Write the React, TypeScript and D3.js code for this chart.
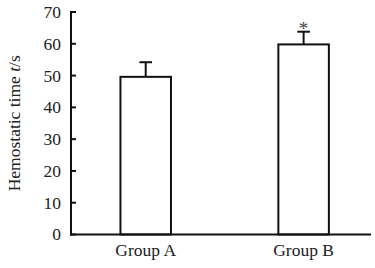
import React from "react";
import * as d3 from "d3";

const categories = ["Group A", "Group B"];
const means = [49.6, 59.8];
const errors = [4.6, 4.0];
const significance = ["", "*"];
const yTicks = [0, 10, 20, 30, 40, 50, 60, 70];

const W = 375;
const H = 268;
const FONT = "'Liberation Serif', 'Times New Roman', serif";

export default function App() {
  const x = d3
    .scaleBand<string>()
    .domain(categories)
    .range([71, 371])
    .paddingInner(0.68)
    .paddingOuter(0.29)
    .align(0.54);
  const y = d3.scaleLinear().domain([0, 70]).range([234.5, 12]);
  const bw = x.bandwidth();
  const capHalf = 6.3;

  return (
    <svg
      width={W}
      height={H}
      style={{ position: "absolute", left: 0, top: 0, background: "#fff" }}
      fontFamily={FONT}
    >
      {categories.map((c, i) => {
        const x0 = x(c)!;
        const cx = x0 + bw / 2;
        const top = y(means[i]);
        const errTop = y(means[i] + errors[i]);
        return (
          <g key={c}>
            <line x1={cx} x2={cx} y1={top} y2={errTop} stroke="#111" strokeWidth={2} />
            <line x1={cx - capHalf} x2={cx + capHalf} y1={errTop} y2={errTop} stroke="#111" strokeWidth={2} />
            <rect
              x={x0}
              y={top}
              width={bw}
              height={y(0) - top}
              fill="#fff"
              stroke="#111"
              strokeWidth={2}
            />
            {significance[i] && (
              <text x={cx} y={errTop + 3} textAnchor="middle" fontSize={19} fill="#444">
                {significance[i]}
              </text>
            )}
            <text x={cx} y={256} textAnchor="middle" fontSize={17.5} fill="#222">
              {c}
            </text>
          </g>
        );
      })}
      <line x1={71} x2={71} y1={y(70) - 1} y2={y(0) + 1} stroke="#111" strokeWidth={2} />
      {yTicks.map((t) => (
        <g key={t}>
          <line x1={71} x2={76} y1={y(t)} y2={y(t)} stroke="#111" strokeWidth={2} />
          <text x={61} y={y(t)} dy="0.34em" textAnchor="end" fontSize={17.5} fill="#222">
            {t}
          </text>
        </g>
      ))}
      <line x1={70} x2={371} y1={y(0)} y2={y(0)} stroke="#111" strokeWidth={2} />
      <text
        transform={`translate(20, ${(y(0) + y(70)) / 2}) rotate(-90)`}
        textAnchor="middle"
        fontSize={17.5}
        fill="#222"
      >
        Hemostatic time <tspan fontStyle="italic">t</tspan>/s
      </text>
    </svg>
  );
}
